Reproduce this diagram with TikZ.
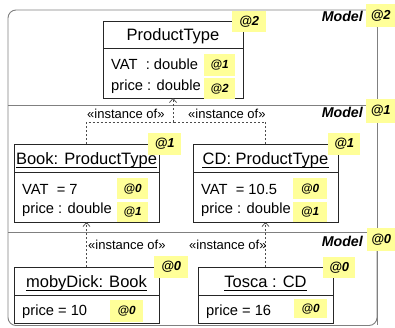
\documentclass[tikz,border=0pt]{standalone}
\usepackage{fontspec}
\setmainfont{Liberation Sans}
\usetikzlibrary{arrows.meta}
\definecolor{hl}{RGB}{255,255,153}
\definecolor{fr}{RGB}{128,128,128}
\tikzset{
 frame/.style={draw=fr, line width=0.9pt},
 cls/.style={draw=black!85, line width=0.9pt, fill=white, inner sep=0, outer sep=0, anchor=north west},
 hdr/.style={inner sep=0, anchor=base, font=\fontsize{16.5}{18}\selectfont},
 attr/.style={inner sep=0, anchor=base west, font=\fontsize{14.7}{16}\selectfont},
 inst/.style={inner sep=0, anchor=base west, font=\fontsize{13}{14}\selectfont},
 mdl/.style={inner sep=0, anchor=base east, font=\fontsize{14.2}{16}\selectfont\bfseries\itshape},
 tagbig/.style={fill=hl, inner sep=0, anchor=north west, font=\fontsize{13}{14}\selectfont\bfseries\itshape},
 tagsm/.style={fill=hl, inner sep=0, anchor=north west, font=\fontsize{11.8}{13}\selectfont\bfseries\itshape},
 inof/.style={draw=black!70, dash pattern=on 2pt off 2pt, line width=0.7pt},
 tip/.style={-{Straight Barb[length=4pt,width=7pt]}},
 uline/.style={draw=black, line width=0.8pt}
}
\begin{document}
\begin{tikzpicture}[x=1pt,y=-1pt]
\useasboundingbox (0,0) rectangle (395,327);
% outer frame
\draw[frame, rounded corners=8pt] (377,27) -- (377,10) -- (8,10) -- (8,325.5) -- (377,325.5) -- (377,240);
\draw[frame] (377,10) -- (377,325);
\draw[frame] (8,105) -- (377,105);
\draw[frame] (8,232) -- (377,232);
% model labels
\node[mdl] (m2) at (363,21) {Model};
\node[tagbig, minimum width=29pt, minimum height=23pt] (l2) at (366,4) {@2};
\node[mdl] (m1) at (363,117) {Model};
\node[tagbig, minimum width=29pt, minimum height=24pt] (l1) at (366,99) {@1};
\node[mdl] (m0) at (363,246) {Model};
\node[tagbig, minimum width=28pt, minimum height=23pt] (l0) at (367,228) {@0};

% ProductType
\node[cls, minimum width=140pt, minimum height=77pt] (pt) at (103,21) {};
\draw[cls] (103,48) -- (243,48);
\node[hdr] (ptn) at (173,40) {ProductType};
\node[attr] (pta1) at (111,69) {VAT\ \ : double};
\node[attr] (pta2) at (111,90) {price : double};
\node[tagbig, minimum width=34pt, minimum height=21pt] (ptt) at (232,11) {@2};
\node[tagsm, minimum width=31pt, minimum height=22pt] (ptt1) at (204,54) {@1};
\node[tagsm, minimum width=31pt, minimum height=21pt] (ptt2) at (204,78) {@2};

% Book
\node[cls, minimum width=145pt, minimum height=78pt] (book) at (14,144) {};
\draw[cls] (14,172) -- (159,172);
\node[hdr] (bookn) at (86.5,164) {Book: ProductType};
\draw[uline] ([yshift=-3pt]bookn.base west) -- ([yshift=-3pt]bookn.base east);
\node[attr] (booka1) at (22,194.5) {VAT\ \ = 7};
\node[attr] (booka2) at (22,213.5) {price : double};
\node[tagbig, minimum width=33pt, minimum height=22pt] (bookt) at (148,133) {@1};
\node[tagsm, minimum width=31pt, minimum height=21pt] (bookt1) at (117,178) {@0};
\node[tagsm, minimum width=31pt, minimum height=20pt] (bookt2) at (117,202) {@1};

% CD
\node[cls, minimum width=145pt, minimum height=78pt] (cd) at (193,144) {};
\draw[cls] (193,172) -- (338,172);
\node[hdr] (cdn) at (265.5,164) {CD: ProductType};
\draw[uline] ([yshift=-3pt]cdn.base west) -- ([yshift=-3pt]cdn.base east);
\node[attr] (cda1) at (201,194.5) {VAT\ \ = 10.5};
\node[attr] (cda2) at (201,213.5) {price : double};
\node[tagbig, minimum width=32pt, minimum height=22pt] (cdt) at (328,133) {@1};
\node[tagsm, minimum width=34pt, minimum height=21pt] (cdt1) at (293,178) {@0};
\node[tagsm, minimum width=34pt, minimum height=20pt] (cdt2) at (293,202) {@1};

% mobyDick
\node[cls, minimum width=145pt, minimum height=56pt] (moby) at (14,267) {};
\draw[cls] (14,295) -- (159,295);
\node[hdr] (mobyn) at (86.5,287) {mobyDick: Book};
\draw[uline] ([yshift=-3pt]mobyn.base west) -- ([yshift=-3pt]mobyn.base east);
\node[attr] (mobya1) at (22,315) {price = 10};
\node[tagbig, minimum width=34pt, minimum height=22pt] (mobyt) at (154,256) {@0};
\node[tagsm, minimum width=33pt, minimum height=22pt] (mobyt1) at (110,300) {@0};

% Tosca
\node[cls, minimum width=135pt, minimum height=56pt] (tosca) at (198,267) {};
\draw[cls] (198,295) -- (333,295);
\node[hdr] (toscan) at (265.5,287) {Tosca : CD};
\draw[uline] ([yshift=-3pt]toscan.base west) -- ([yshift=-3pt]toscan.base east);
\node[attr] (toscaa1) at (206,315) {price = 16};
\node[tagbig, minimum width=32pt, minimum height=21pt] (toscat) at (323,257) {@0};
\node[tagsm, minimum width=33pt, minimum height=19pt] (toscat1) at (294,299) {@0};

% instance-of connectors
\coordinate (jm) at (173,122);
\draw[inof] (book.north) |- (jm);
\draw[inof] (cd.north) |- (jm);
\draw[inof, tip] (jm) -- (pt.south);
\draw[inof, tip] (moby.north) -- (book.south);
\draw[inof, tip] (tosca.north) -- (cd.south);
\node[inst] (i1) at (87,118.5) {«instance of»};
\node[inst] (i2) at (188,118.5) {«instance of»};
\node[inst] (i3) at (88,249) {«instance of»};
\node[inst] (i4) at (189,249) {«instance of»};
\end{tikzpicture}
\end{document}
